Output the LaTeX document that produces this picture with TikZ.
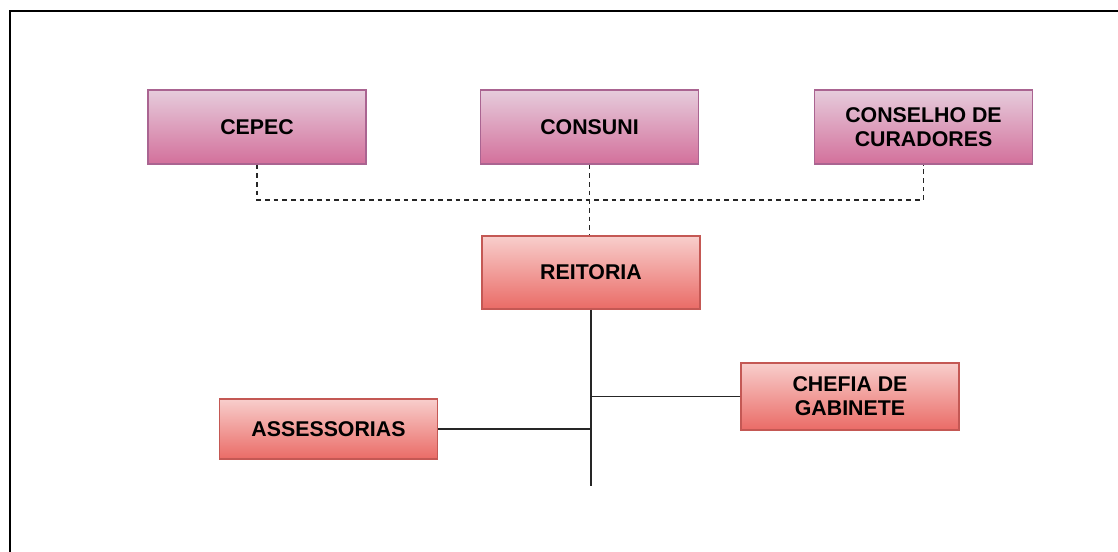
\documentclass[tikz,border=0pt]{standalone}
\usepackage{fontspec}
\setmainfont{Liberation Sans}
\usetikzlibrary{positioning,calc}
\definecolor{PinkTop}{RGB}{230,204,220}
\definecolor{PinkBot}{RGB}{211,112,155}
\definecolor{PinkLine}{RGB}{170,100,145}
\definecolor{RedTop}{RGB}{248,206,204}
\definecolor{RedBot}{RGB}{234,107,102}
\definecolor{RedLine}{RGB}{196,88,84}
\tikzset{council/.style={rectangle,draw=PinkLine,line width=1pt,top color=PinkTop,bottom color=PinkBot,minimum width=163.5pt,minimum height=55.5pt,align=center,font=\fontsize{16}{18}\selectfont\bfseries,inner sep=2pt}, office/.style={rectangle,draw=RedLine,line width=1pt,top color=RedTop,bottom color=RedBot,minimum width=163.5pt,align=center,font=\fontsize{16}{18}\selectfont\bfseries,inner sep=2pt}, link/.style={draw=black!85,line width=1.4pt}, dotlink/.style={draw=black!85,line width=1.3pt,dash pattern=on 3.5pt off 3pt}}

\begin{document}
\begin{tikzpicture}[x=0.75pt,y=-0.75pt]
\useasboundingbox (0,0) rectangle (1118,551);
\draw[line width=1.8pt] (10,570) -- (10,11) -- (1140,11);
\node[council] (cepec) at (257,127) {CEPEC};
\node[council] (consuni) at (589.5,127) {CONSUNI};
\node[council] (curadores) at (923.5,127) {CONSELHO DE\\CURADORES};
\node[office,minimum height=54.75pt] (reitoria) at (591,272.5) {REITORIA};
\node[office,minimum height=45pt] (assessorias) at (328.5,429) {ASSESSORIAS};
\node[office,minimum height=50.25pt] (chefia) at (850,396.5) {CHEFIA DE\\GABINETE};
\coordinate (bus) at (591,200);
\coordinate (tail) at (591,486);
\draw[dotlink] (cepec.south) |- (bus) -| (curadores.south);
\draw[dotlink] (consuni.south) -- (consuni.south |- reitoria.north);
\draw[link] (reitoria.south) -- (tail);
\draw[link] (chefia.west) -- (chefia.west -| reitoria.south);
\draw[link] (assessorias.east) -- (assessorias.east -| reitoria.south);
\end{tikzpicture}
\end{document}
